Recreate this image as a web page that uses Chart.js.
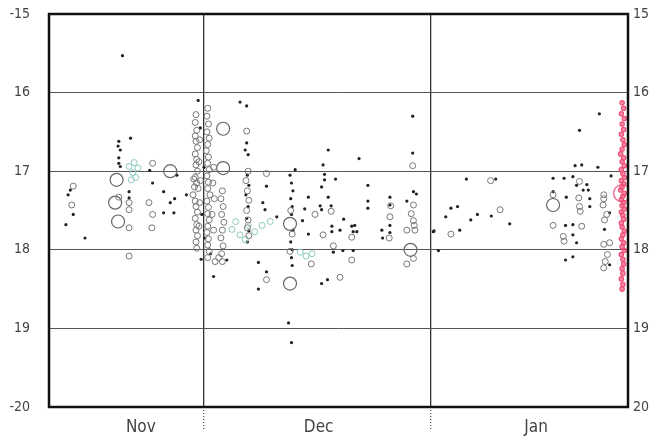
<!DOCTYPE html>
<html>
<head>
<meta charset="utf-8">
<script src="https://cdn.jsdelivr.net/npm/chart.js@4/dist/chart.umd.min.js"></script>
<style>
  html, body { margin: 0; padding: 0; background: #fff; }
  #wrap { width: 656px; height: 437px; }
</style>
</head>
<body>
<div id="wrap"><canvas id="lc" width="656" height="437"></canvas></div>
<script>
// x = days counted from Nov 1 (Dec 1 = 30, Jan 1 = 61), y = magnitude
const monthTicks = [21.5, 45.7, 75.3];
const monthNames = ['Nov', 'Dec', 'Jan'];
const monthEdges = [30, 61];
const magTicks = [15, 16, 17, 18, 19, 20];

const dots = [
  [19.0,15.53],[29.3,16.10],[20.1,16.58],[18.5,16.62],[18.4,16.68],[18.7,16.73],[18.5,16.83],
  [18.5,16.90],[18.7,16.94],[22.7,16.99],[26.4,17.05],[12.3,17.55],[11.3,17.68],[13.9,17.85],
  [19.9,17.26],[19.9,17.34],[23.1,17.15],[24.6,17.26],[24.6,17.53],[25.5,17.40],[26.1,17.35],
  [26.0,17.53],[27.7,17.30],[11.6,17.30],[11.9,17.24],
  [35.0,16.12],[35.9,16.17],[35.9,16.64],[35.7,16.73],[36.1,16.79],[38.6,17.19],[38.1,17.40],
  [38.4,17.49],[40.0,17.58],[42.5,16.98],[41.8,17.05],[33.2,18.13],[31.4,18.34],[37.5,18.16],
  [38.6,18.28],[37.5,18.50],[41.6,18.93],[42.0,19.18],
  [36.0,17.05],[36.2,17.18],[35.8,17.30],[36.1,17.45],[35.9,17.60],[36.2,17.76],[36.0,17.90],
  [42.0,17.15],[42.2,17.25],[41.9,17.35],[42.1,17.45],[42.0,17.55],[42.2,17.75],[41.9,17.90],
  [42.1,18.00],[42.0,18.10],[42.1,18.20],
  [58.5,16.30],[58.5,16.77],[47.0,16.73],[51.2,16.84],[46.3,16.92],[46.5,17.04],[46.5,17.11],
  [48.0,17.10],[46.1,17.20],[52.4,17.18],[44.3,17.33],[47.0,17.33],[52.4,17.38],[52.4,17.47],
  [43.8,17.48],[45.9,17.44],[46.1,17.49],[47.4,17.44],[49.1,17.61],[43.5,17.63],[55.4,17.33],
  [55.4,17.43],[55.4,17.69],[55.4,17.78],[54.3,17.75],[54.4,17.85],[50.2,17.70],[50.6,17.69],
  [50.4,17.77],[50.9,17.77],[48.6,17.75],[47.5,17.70],[47.5,17.77],[44.3,17.80],[47.7,18.03],
  [49.0,18.01],[50.4,18.01],[46.1,18.43],[46.9,18.38],[58.6,17.26],[59.0,17.29],[57.7,17.38],
  [61.3,17.77],
  [65.8,17.10],[69.8,17.10],[63.7,17.47],[64.6,17.45],[63.0,17.58],[67.3,17.55],[66.4,17.62],
  [69.2,17.57],[71.7,17.67],[61.4,17.76],[64.9,17.75],[62.0,18.01],
  [83.9,16.27],[81.2,16.48],[81.5,16.92],[80.6,16.93],[83.7,16.95],[77.6,17.09],[79.1,17.09],
  [80.3,17.07],[82.2,17.17],[82.4,17.24],[80.8,17.18],[81.7,17.24],[79.4,17.33],[82.6,17.35],
  [82.6,17.45],[85.3,17.53],[79.3,17.69],[80.3,17.68],[80.3,17.81],[80.8,17.91],[79.3,18.13],
  [80.3,18.09],[85.3,18.19],[85.5,17.06],[77.6,17.26],[84.6,17.74],
  [29.6,16.45],[30.1,16.95],[29.8,17.55],[30.2,17.85],[31.0,18.05],[29.7,18.12]
];

const rings = [
  [23.1,16.90],[12.3,17.19],[12.1,17.43],[18.5,17.33],[19.9,17.40],[19.9,17.49],[19.9,17.72],
  [19.9,18.08],[22.6,17.40],[23.1,17.55],[23.0,17.72],[28.7,17.10],[28.8,17.20],[28.6,17.30],
  [28.9,17.38],
  [29.0,16.28],[28.9,16.38],[29.1,16.48],[28.9,16.55],[29.0,16.62],[29.2,16.70],[28.9,16.78],
  [29.1,16.85],[29.0,16.92],[29.2,17.00],[28.9,17.08],[29.1,17.15],[29.3,17.22],[29.0,17.45],
  [29.2,17.52],[28.9,17.60],[29.1,17.68],[29.0,17.75],[29.2,17.82],[29.0,17.90],[29.1,17.98],
  [29.5,16.60],[29.4,16.88],[29.6,17.12],[29.5,17.40],[29.4,17.70],
  [30.6,16.20],[30.5,16.30],[30.7,16.40],[30.5,16.50],[30.8,16.58],[30.6,16.66],[30.4,16.74],
  [30.7,16.82],[30.6,16.90],[30.8,16.98],[30.5,17.06],[30.7,17.14],[30.6,17.22],[30.9,17.30],
  [30.5,17.38],[30.7,17.46],[30.6,17.54],[30.8,17.62],[30.6,17.70],[30.5,17.78],[30.7,17.86],
  [30.6,17.94],[30.8,18.02],[30.6,18.10],
  [31.4,16.95],[31.3,17.15],[31.5,17.35],[31.2,17.55],[31.4,17.75],
  [32.6,17.25],[32.4,17.35],[32.7,17.45],[32.5,17.55],[32.8,17.65],[32.6,17.75],[32.4,17.85],
  [32.7,17.95],[32.5,18.05],[32.6,18.15],
  [35.9,16.49],[36.1,17.00],[35.8,17.12],[36.0,17.25],[36.2,17.37],[35.9,17.50],[36.1,17.62],
  [36.0,17.72],[36.2,17.82],[38.6,17.03],[31.6,18.15],[32.1,18.10],[38.6,18.38],
  [41.9,17.50],[42.1,17.80],[41.8,18.02],
  [58.5,16.93],[55.5,17.44],[55.4,17.58],[55.3,17.85],[50.2,17.84],[46.3,17.81],[45.2,17.55],
  [47.4,17.51],[47.7,17.95],[50.2,18.13],[44.7,18.18],[48.6,18.35],[58.6,17.43],[58.3,17.54],
  [58.6,17.63],[58.7,17.69],[57.7,17.75],[58.8,17.75],[58.6,18.11],[57.7,18.18],
  [69.1,17.12],[70.4,17.49],[63.7,17.80],
  [81.2,17.13],[77.6,17.30],[81.1,17.34],[81.2,17.45],[81.3,17.51],[84.5,17.30],[84.5,17.35],
  [84.4,17.43],[84.9,17.55],[84.6,17.62],[77.6,17.69],[81.5,17.70],[79.0,17.83],[79.1,17.89],
  [84.5,17.93],[85.3,17.91],[85.0,18.06],[84.7,18.15],[84.5,18.23]
];

const bigRings = [
  [25.5,17.00],[18.2,17.11],[18.0,17.40],[18.4,17.64],[32.7,16.46],[32.7,16.96],[77.6,17.43],
  [41.8,17.67],[41.8,18.43],[58.2,18.00]
];

const tealRings = [
  [20.4,17.02],[19.9,16.94],[20.8,17.08],[20.2,17.11],[21.1,16.96],[20.6,16.89],
  [33.9,17.74],[35.0,17.81],[36.1,17.69],[37.0,17.77],[38.0,17.69],[39.1,17.64],[35.7,17.87],
  [34.4,17.64],[43.2,18.03],[44.0,18.08],[44.8,18.05]
];

const redPoints = [
  [87.0,16.13],[87.2,16.20],[86.9,16.27],[87.3,16.33],[87.0,16.40],[87.2,16.47],[86.9,16.53],
  [87.1,16.60],[87.3,16.66],[87.0,16.72],[86.8,16.78],[87.2,16.83],[87.0,16.88],[87.3,16.93],
  [86.9,16.98],[87.1,17.03],[87.3,17.08],[86.9,17.12],[87.2,17.16],[87.0,17.20],[86.8,17.24],
  [87.3,17.28],[87.1,17.32],[86.9,17.36],[87.2,17.40],[87.0,17.44],[87.3,17.48],[86.9,17.52],
  [87.1,17.56],[87.2,17.61],[86.9,17.66],[87.0,17.71],[87.3,17.76],[87.1,17.81],[86.9,17.86],
  [87.2,17.91],[87.0,17.96],[87.3,18.01],[86.9,18.06],[87.1,18.12],[87.2,18.18],[87.0,18.24],
  [87.1,18.30],[86.9,18.37],[87.1,18.44],[87.0,18.50]
];

const redBig = [[87.0,17.28]];

const toXY = arr => arr.map(p => ({ x: p[0], y: p[1] }));

const framePlugin = {
  id: 'frame',
  afterDraw(chart) {
    const a = chart.chartArea;
    const c = chart.ctx;
    c.save();
    c.strokeStyle = '#111';
    c.lineWidth = 2.5;
    c.strokeRect(a.left, a.top, a.right - a.left, a.bottom - a.top);
    c.restore();
  }
};

const labelFont = { family: '"Liberation Sans Narrow", "DejaVu Sans Condensed", "Liberation Sans", sans-serif', size: 14 };

const fitSide = w => s => {
  s.width = w;
  s.paddingTop = 0;
  s.paddingBottom = 0;
};

new Chart(document.getElementById('lc'), {
  type: 'scatter',
  data: {
    datasets: [
      { data: toXY(rings), pointRadius: 3, borderColor: '#777', borderWidth: 1, backgroundColor: 'rgba(0,0,0,0)' },
      { data: toXY(tealRings), pointRadius: 3, borderColor: '#8cc9bd', borderWidth: 1, backgroundColor: 'rgba(0,0,0,0)' },
      { data: toXY(bigRings), pointRadius: 6.5, borderColor: '#666', borderWidth: 1.2, backgroundColor: 'rgba(0,0,0,0)' },
      { data: toXY(dots), pointRadius: 1.6, borderWidth: 0, backgroundColor: '#222' },
      { data: toXY(redPoints), pointRadius: 2.2, borderColor: '#f0507a', borderWidth: 1.2, backgroundColor: 'rgba(240,60,100,0.6)' },
      { data: toXY(redBig), pointRadius: 8.5, borderColor: '#f07090', borderWidth: 1.5, backgroundColor: 'rgba(0,0,0,0)' }
    ]
  },
  options: {
    responsive: false,
    animation: false,
    layout: { padding: { top: 14, left: 0, right: 0, bottom: 0 } },
    plugins: { legend: { display: false }, tooltip: { enabled: false } },
    scales: {
      x: {
        type: 'linear',
        min: 9,
        max: 87.8,
        afterFit: s => { s.height = 30; s.paddingLeft = 0; s.paddingRight = 0; },
        afterBuildTicks: s => {
          const t = [];
          monthTicks.forEach((v, i) => t.push({ value: v, label: monthNames[i] }));
          monthEdges.forEach(v => t.push({ value: v, label: '' }));
          t.sort((a, b) => a.value - b.value);
          s.ticks = t;
        },
        ticks: {
          autoSkip: false,
          maxRotation: 0,
          padding: -12,
          color: '#444',
          font: { ...labelFont, size: 17 },
          callback: (v) => {
            const i = monthTicks.indexOf(v);
            return i >= 0 ? monthNames[i] : '';
          }
        },
        grid: {
          drawTicks: true,
          tickLength: 22,
          color: ctx => (ctx.tick && monthEdges.includes(ctx.tick.value)) ? '#333' : 'rgba(0,0,0,0)',
          tickColor: ctx => (ctx.tick && monthEdges.includes(ctx.tick.value)) ? '#555' : 'rgba(0,0,0,0)',
          lineWidth: 1.3,
          borderDash: [1, 2],
          tickBorderDash: [1, 2]
        },
        border: { display: false }
      },
      y: {
        position: 'left',
        min: 15,
        max: 20,
        reverse: true,
        afterFit: fitSide(49),
        afterBuildTicks: s => { s.ticks = magTicks.map(v => ({ value: v })); },
        ticks: {
          padding: 19,
          color: '#444',
          font: labelFont,
          callback: v => (v === 15 || v === 20) ? '-' + v : String(v)
        },
        grid: {
          drawTicks: false,
          color: ctx => (ctx.tick && (ctx.tick.value === 15 || ctx.tick.value === 20)) ? 'rgba(0,0,0,0)' : '#555',
          lineWidth: 1,
          borderDash: [6, 2]
        },
        border: { display: false }
      },
      y2: {
        position: 'right',
        min: 15,
        max: 20,
        reverse: true,
        afterFit: fitSide(28),
        afterBuildTicks: s => { s.ticks = magTicks.map(v => ({ value: v })); },
        ticks: {
          padding: 5,
          color: '#444',
          font: labelFont,
          callback: v => String(v)
        },
        grid: { display: false, drawTicks: false },
        border: { display: false }
      }
    }
  },
  plugins: [framePlugin]
});
</script>
</body>
</html>
